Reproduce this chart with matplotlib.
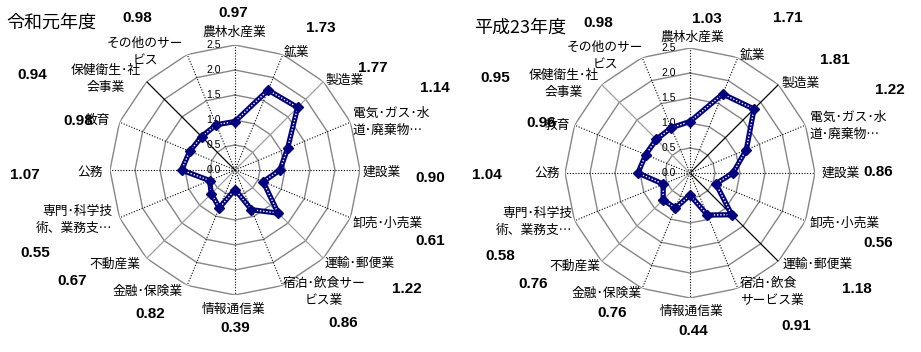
import numpy as np
import matplotlib
matplotlib.use('Agg')
import matplotlib.pyplot as plt

plt.rcParams['font.family'] = ['Noto Sans CJK JP', 'DejaVu Sans']

# データ
titulo_esq = '令和元年度'
titulo_dir = '平成23年度'

categorias_esq = ['農林水産業', '鉱業', '製造業', '電気･ガス･水\n道･廃棄物…', '建設業',
                  '卸売･小売業', '運輸･郵便業', '宿泊･飲食サー\nビス業', '情報通信業',
                  '金融･保険業', '不動産業', '専門･科学技\n術、業務支…', '公務', '教育',
                  '保健衛生･社\n会事業', 'その他のサー\nビス']
categorias_dir = ['農林水産業', '鉱業', '製造業', '電気･ガス･水\n道･廃棄物…', '建設業',
                  '卸売･小売業', '運輸･郵便業', '宿泊･飲食\nサービス業', '情報通信業',
                  '金融･保険業', '不動産業', '専門･科学技\n術、業務支…', '公務', '教育',
                  '保健衛生･社\n会事業', 'その他のサー\nビス']

valores_esq = [0.97, 1.73, 1.77, 1.14, 0.90, 0.61, 1.22, 0.86, 0.39, 0.82,
               0.67, 0.55, 1.07, 0.98, 0.94, 0.98]
valores_dir = [1.03, 1.71, 1.81, 1.22, 0.86, 0.56, 1.18, 0.91, 0.44, 0.76,
               0.76, 0.58, 1.04, 0.96, 0.95, 0.98]

aneis = [0.5, 1.0, 1.5, 2.0, 2.5]
ticks = [0.0, 0.5, 1.0, 1.5, 2.0, 2.5]

# layout (pixels, origem no canto superior esquerdo)
W, H = 921, 352
R_PX = 125
centro_esq = (235, 170)
centro_dir = (690, 173)

pos_cat_esq = [(234, 32, 'center'), (296, 52, 'center'), (345, 80, 'center'), (353, 122, 'left'),
               (363, 172, 'left'), (353, 223, 'left'), (325, 263, 'left'), (324, 292, 'center'),
               (234, 309, 'center'), (183, 291, 'right'), (140, 264, 'right'), (112, 220, 'right'),
               (103, 172, 'right'), (110, 120, 'right'), (106, 79, 'center'), (145, 52, 'center')]
pos_cat_dir = [(692, 37, 'center'), (752, 55, 'center'), (801, 83, 'center'), (810, 126, 'left'),
               (822, 173, 'left'), (810, 223, 'left'), (783, 264, 'left'), (740, 292, 'left'),
               (692, 311, 'center'), (642, 293, 'right'), (600, 266, 'right'), (572, 222, 'right'),
               (560, 173, 'right'), (570, 125, 'right'), (564, 84, 'center'), (605, 56, 'center')]

pos_val_esq = [(233, 13), (321, 28), (373, 68), (435, 88), (430, 178), (430, 241), (407, 289),
               (343, 323), (235, 328), (150, 314), (72, 281), (35, 253), (25, 175), (78, 121),
               (32, 75), (137, 18)]
pos_val_dir = [(707, 19), (788, 18), (835, 60), (890, 90), (878, 172), (878, 243), (857, 289),
               (796, 326), (693, 331), (612, 313), (533, 284), (500, 256), (487, 175), (541, 123),
               (495, 78), (598, 23)]

# estilo dos raios diagonais (Excel desenha alguns como linha contínua)
raios_esq = {2: '#a0a0a0', 6: '#a0a0a0', 10: '#a0a0a0', 14: 'black'}
raios_dir = {2: 'black', 6: 'black', 10: '#a0a0a0', 14: '#a0a0a0'}


def px(x, y):
    return x / W, 1 - y / H


fig = plt.figure(figsize=(W / 100, H / 100), dpi=100)
fig.patch.set_facecolor('white')


def radar(centro, valores, categorias, pos_cat, pos_val, raios, titulo, pos_titulo):
    cx, cy = centro
    x0, y0 = px(cx - R_PX, cy + R_PX)
    ax = fig.add_axes([x0, y0, 2 * R_PX / W, 2 * R_PX / H], projection='polar')
    ax.set_theta_zero_location('N')
    ax.set_theta_direction(-1)
    ax.set_ylim(0, 2.5)
    ax.grid(False)
    ax.spines['polar'].set_visible(False)
    ax.set_xticks([])
    ax.set_yticks([])
    ax.patch.set_alpha(0)

    n = len(valores)
    ang = np.linspace(0, 2 * np.pi, n, endpoint=False)
    ang_f = np.append(ang, ang[0])

    for r in aneis:
        ax.plot(ang_f, [r] * (n + 1), color='#868686', lw=1.0, zorder=1)
    for i, a in enumerate(ang):
        if i in raios:
            ax.plot([a, a], [0, 2.5], color=raios[i], lw=0.9, zorder=1)
        else:
            ax.plot([a, a], [0, 2.5], color='black', lw=0.8, ls=(0, (1, 1.5)), zorder=1)

    v = np.append(valores, valores[0])
    ax.plot(ang_f, v, color='#000080', lw=3.8, zorder=3, solid_joinstyle='miter')
    ax.plot(ang_f, v, color='white', lw=1.0, ls=(0, (1, 1.3)), zorder=4)
    ax.plot(ang, valores, 'D', color='#000080', ms=5.5, zorder=5)

    for t in ticks:
        ax.annotate(f'{t:.1f}', xy=(0, t), xytext=(-10, 0), textcoords='offset points',
                    ha='right', va='center', fontsize=7.5, family=['Liberation Sans'],
                    color='black', annotation_clip=False)

    for cat, (x, y, ha) in zip(categorias, pos_cat):
        fig.text(*px(x, y), cat, ha=ha, va='center', fontsize=9.2, multialignment=ha,
                 linespacing=1.45)
    for val, (x, y) in zip(valores, pos_val):
        fig.text(*px(x, y), f'{val:.2f}', ha='center', va='center', fontsize=11,
                 fontweight='bold', family=['Liberation Sans', 'DejaVu Sans'])
    fig.text(*px(*pos_titulo), titulo, ha='left', va='center', fontsize=13)


radar(centro_esq, valores_esq, categorias_esq, pos_cat_esq, pos_val_esq, raios_esq,
      titulo_esq, (6, 23))
radar(centro_dir, valores_dir, categorias_dir, pos_cat_dir, pos_val_dir, raios_dir,
      titulo_dir, (474, 28))

fig.savefig('out.png', dpi=100, facecolor='white')
